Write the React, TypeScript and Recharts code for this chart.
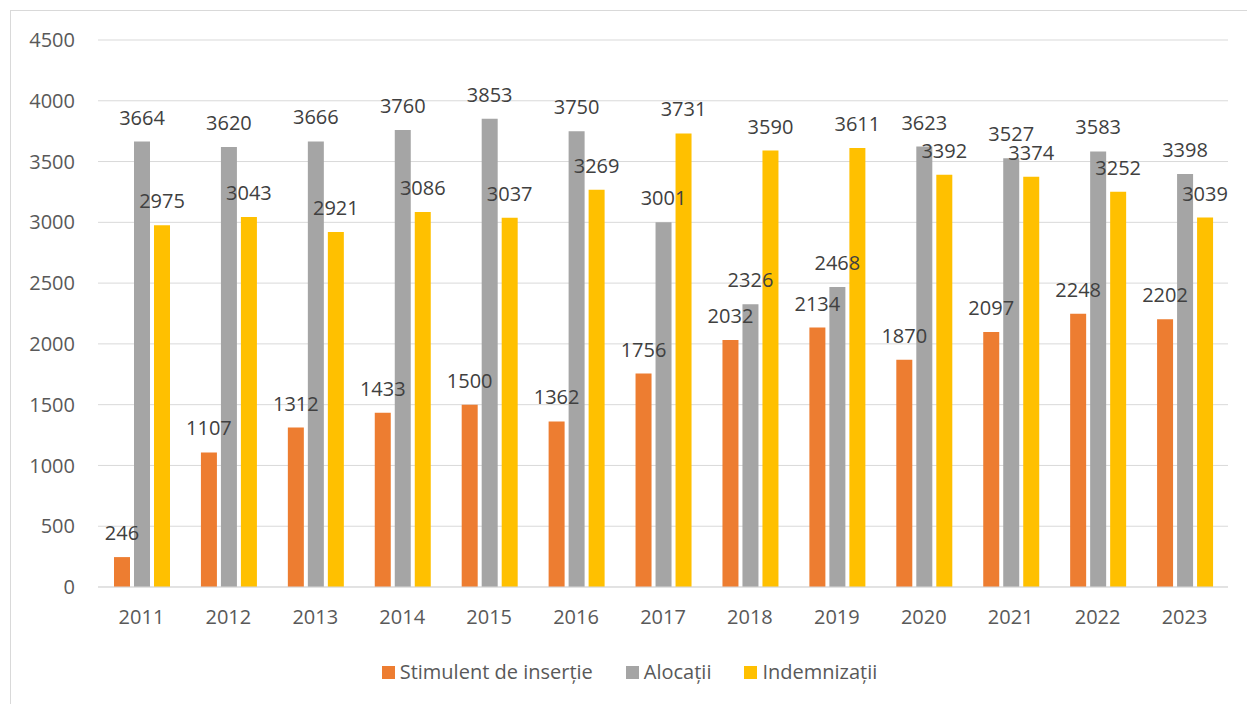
import { BarChart, Bar, XAxis, YAxis, CartesianGrid, Legend, LabelList } from 'recharts';

const ani = ['2011', '2012', '2013', '2014', '2015', '2016', '2017', '2018', '2019', '2020', '2021', '2022', '2023'];
const stimulent = [246, 1107, 1312, 1433, 1500, 1362, 1756, 2032, 2134, 1870, 2097, 2248, 2202];
const alocatii = [3664, 3620, 3666, 3760, 3853, 3750, 3001, 2326, 2468, 3623, 3527, 3583, 3398];
const indemnizatii = [2975, 3043, 2921, 3086, 3037, 3269, 3731, 3590, 3611, 3392, 3374, 3252, 3039];
const yTicks = [0, 500, 1000, 1500, 2000, 2500, 3000, 3500, 4000, 4500];

const serii = [
  { key: 'stimulent', nume: 'Stimulent de inserție', culoare: '#ED7D31' },
  { key: 'alocatii', nume: 'Alocații', culoare: '#A5A5A5' },
  { key: 'indemnizatii', nume: 'Indemnizații', culoare: '#FFC000' },
];

const date = ani.map((an, i) => ({
  an,
  stimulent: stimulent[i],
  alocatii: alocatii[i],
  indemnizatii: indemnizatii[i],
}));

// legenda ca in Excel: patratele mici, spatiu mare intre elemente
function Legenda() {
  return (
    <div style={{ display: 'flex', justifyContent: 'center', alignItems: 'center', height: 24, gap: 33 }}>
      {serii.map((s) => (
        <div key={s.key} style={{ display: 'flex', alignItems: 'center', gap: 5 }}>
          <span style={{ width: 13, height: 13, background: s.culoare, display: 'inline-block' }} />
          <span style={{ fontSize: 20, color: '#595959', lineHeight: '24px' }}>{s.nume}</span>
        </div>
      ))}
    </div>
  );
}

export default function App() {
  return (
    <div
      style={{
        position: 'fixed',
        left: 10,
        top: 10,
        width: 1250,
        height: 700,
        border: '1px solid #d9d9d9',
        background: '#fff',
        fontFamily: '"Open Sans", sans-serif',
      }}
    >
      <BarChart
        width={1237}
        height={690}
        data={date}
        margin={{ top: 29, right: 20, bottom: 17, left: 0 }}
        barCategoryGap={16}
        barGap={4}
      >
        <CartesianGrid vertical={false} stroke="#d9d9d9" />
        <XAxis
          dataKey="an"
          height={73}
          tickLine={false}
          tickSize={0}
          tickMargin={23}
          axisLine={{ stroke: '#d9d9d9' }}
          tick={{ fill: '#595959', fontSize: 20 }}
        />
        <YAxis
          width={87}
          domain={[0, 4500]}
          ticks={yTicks}
          axisLine={false}
          tickLine={false}
          tickSize={0}
          tickMargin={23}
          tick={{ fill: '#595959', fontSize: 20 }}
        />
        <Legend verticalAlign="bottom" content={<Legenda />} wrapperStyle={{ left: 0, width: 1237 }} />
        {serii.map((s) => (
          <Bar key={s.key} dataKey={s.key} name={s.nume} fill={s.culoare} isAnimationActive={false}>
            <LabelList dataKey={s.key} position="top" offset={17} fill="#404040" fontSize={20} />
          </Bar>
        ))}
      </BarChart>
    </div>
  );
}
